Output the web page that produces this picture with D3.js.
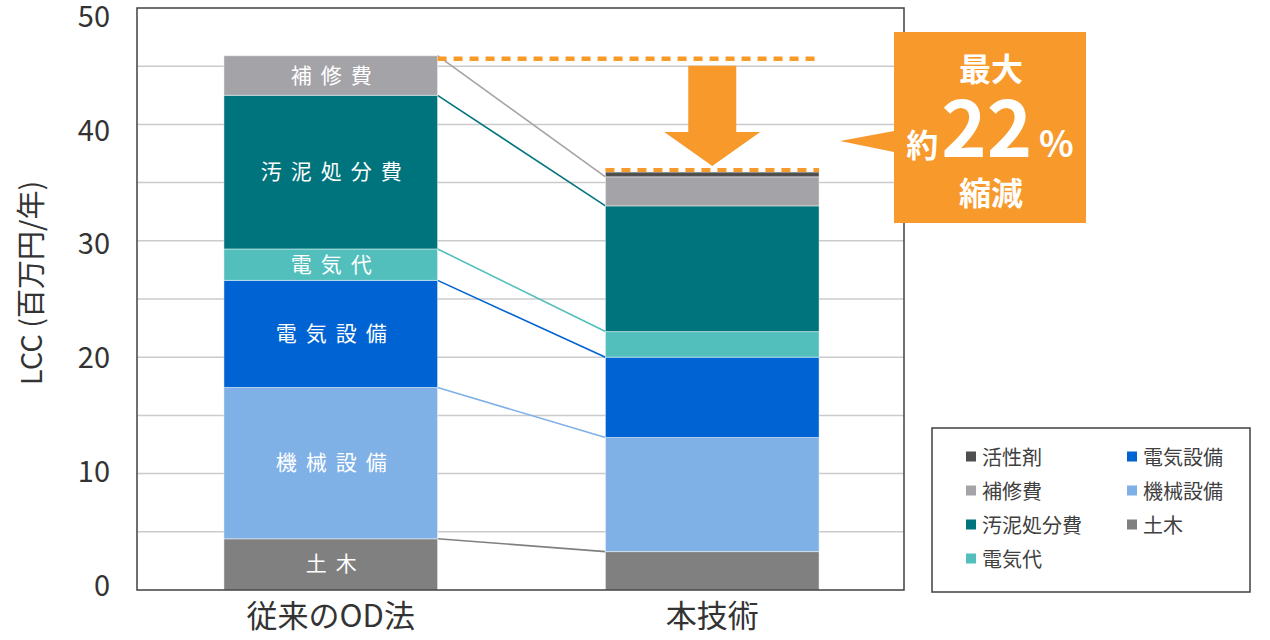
<!DOCTYPE html>
<html>
<head>
<meta charset="utf-8">
<script src="https://cdn.jsdelivr.net/npm/d3@7"></script>
<style>
  body { margin: 0; background: #fff; }
  text { font-family: "Noto Sans CJK JP", "Noto Sans", sans-serif; }
</style>
</head>
<body>
<svg id="svg"></svg>
<script>
// categories and series (bottom to top of the stack)
const categories = ['従来のOD法', '本技術'];
const seriesNames = ['土木', '機械設備', '電気設備', '電気代', '汚泥処分費', '補修費', '活性剤'];
const seriesColors = ['#808080', '#7fb0e6', '#0063d3', '#52bfbd', '#00747c', '#a4a3a8', '#4f4f4f'];

// values in 百万円/年, one per category
const doboku = [4.4, 3.3];
const kikaiSetsubi = [13.0, 9.8];
const denkiSetsubi = [9.2, 6.9];
const denkiDai = [2.7, 2.2];
const odeiShobun = [13.2, 10.8];
const hoshu = [3.4, 2.5];
const kasseizai = [0, 0.4];

const yTicks = [0, 10, 20, 30, 40, 50];
const gridValues = [5, 10, 15, 20, 25, 30, 35, 40, 45];
const legendOrder = ['活性剤', '補修費', '汚泥処分費', '電気代', '電気設備', '機械設備', '土木'];

const width = 1270;
const height = 640;
const plot = { left: 137, right: 904, top: 8, bottom: 590 };
const orange = '#f8992b';

const svg = d3.select('#svg')
  .attr('width', width)
  .attr('height', height);

// build table for the stack
const valuesBySeries = [doboku, kikaiSetsubi, denkiSetsubi, denkiDai, odeiShobun, hoshu, kasseizai];
const table = categories.map((c, i) => {
  const row = { category: c };
  seriesNames.forEach((s, j) => { row[s] = valuesBySeries[j][i]; });
  return row;
});
const stacked = d3.stack().keys(seriesNames)(table);
const totals = table.map(r => d3.sum(seriesNames, s => r[s]));

const x = d3.scaleBand()
  .domain(categories)
  .range([140, 903])
  .paddingInner(0.44)
  .paddingOuter(0.22);

const y = d3.scaleLinear()
  .domain([0, 50])
  .range([plot.bottom, plot.top]);

// the tick labels in the original sit on a slightly tighter scale than the grid
const yLabel = d3.scaleLinear()
  .domain([0, 50])
  .range([586, 17]);

// gridlines
svg.append('g')
  .selectAll('line')
  .data(gridValues)
  .join('line')
  .attr('x1', plot.left)
  .attr('x2', plot.right)
  .attr('y1', d => y(d))
  .attr('y2', d => y(d))
  .attr('stroke', '#cbcbcb')
  .attr('stroke-width', 1.5);

// y tick labels
const yAxis = d3.axisLeft(yLabel).tickValues(yTicks).tickSize(0).tickPadding(27);
const yg = svg.append('g')
  .attr('transform', `translate(${plot.left},0)`)
  .call(yAxis);
yg.select('.domain').remove();
yg.selectAll('text')
  .attr('font-size', '29px')
  .attr('fill', '#333')
  .style('font-family', '"Noto Sans CJK JP", sans-serif');

// y axis title
svg.append('text')
  .attr('transform', `translate(29, 283) rotate(-90)`)
  .attr('text-anchor', 'middle')
  .attr('dominant-baseline', 'central')
  .attr('font-size', '29px')
  .attr('fill', '#333')
  .text('LCC (百万円/年)');

// connector lines between the bar tops of each series
const x0Right = x(categories[0]) + x.bandwidth();
const x1Left = x(categories[1]);
svg.append('g')
  .selectAll('line')
  .data(stacked.filter(s => s.key !== '活性剤'))
  .join('line')
  .attr('x1', x0Right)
  .attr('x2', x1Left)
  .attr('y1', d => y(d[0][1]))
  .attr('y2', d => y(d[1][1]))
  .attr('stroke', d => seriesColors[seriesNames.indexOf(d.key)])
  .attr('stroke-width', 1.6);

// stacked bars
const layers = svg.append('g')
  .selectAll('g')
  .data(stacked)
  .join('g')
  .attr('fill', d => seriesColors[seriesNames.indexOf(d.key)]);

layers.selectAll('rect')
  .data(d => d.filter(p => p[1] - p[0] > 0))
  .join('rect')
  .attr('x', d => x(d.data.category))
  .attr('width', x.bandwidth())
  .attr('y', d => y(d[1]))
  .attr('height', d => y(d[0]) - y(d[1]))
  .attr('stroke', 'rgba(255,255,255,0.45)')
  .attr('stroke-width', 1);

// segment labels on the first bar
const labelSeries = ['土木', '機械設備', '電気設備', '電気代', '汚泥処分費', '補修費'];
svg.append('g')
  .selectAll('text')
  .data(stacked.filter(s => labelSeries.includes(s.key)))
  .join('text')
  .attr('x', x(categories[0]) + x.bandwidth() / 2 + 5)
  .attr('y', d => y((d[0][0] + d[0][1]) / 2) - 2)
  .attr('text-anchor', 'middle')
  .attr('dominant-baseline', 'central')
  .attr('font-size', '21px')
  .attr('letter-spacing', '9px')
  .attr('fill', '#fff')
  .text(d => d.key);

// plot frame
svg.append('rect')
  .attr('x', plot.left)
  .attr('y', plot.top)
  .attr('width', plot.right - plot.left)
  .attr('height', plot.bottom - plot.top)
  .attr('fill', 'none')
  .attr('stroke', '#404040')
  .attr('stroke-width', 1.5);

// x labels
svg.append('g')
  .selectAll('text')
  .data(categories)
  .join('text')
  .attr('x', d => x(d) + x.bandwidth() / 2)
  .attr('y', 627)
  .attr('text-anchor', 'middle')
  .attr('font-size', '31px')
  .attr('fill', '#333')
  .text(d => d);

// dashed orange lines at the two totals
const bar2Right = x(categories[1]) + x.bandwidth();
svg.append('line')
  .attr('x1', x0Right).attr('x2', bar2Right - 2)
  .attr('y1', y(totals[0]) + 3).attr('y2', y(totals[0]) + 3)
  .attr('stroke', orange).attr('stroke-width', 4.5)
  .attr('stroke-dasharray', '9 7');
svg.append('line')
  .attr('x1', x1Left).attr('x2', bar2Right)
  .attr('y1', y(totals[1]) - 2).attr('y2', y(totals[1]) - 2)
  .attr('stroke', orange).attr('stroke-width', 4)
  .attr('stroke-dasharray', '9 7');

// down arrow
const ac = x(categories[1]) + x.bandwidth() / 2;
const aTop = y(totals[0]) + 10;
const aTip = y(totals[1]) - 6;
const aBase = aTip - 34;
svg.append('path')
  .attr('d', `M${ac - 24},${aTop} L${ac + 24},${aTop} L${ac + 24},${aBase} L${ac + 48},${aBase}
              L${ac},${aTip} L${ac - 48},${aBase} L${ac - 24},${aBase} Z`)
  .attr('fill', orange);

// callout box
svg.append('path')
  .attr('d', 'M894,32 L1086,32 L1086,223 L894,223 L894,152 L840,141 L894,131 Z')
  .attr('fill', orange);

const callout = svg.append('g').attr('fill', '#fff').attr('font-weight', 700).attr('text-anchor', 'middle');
callout.append('text')
  .attr('x', 991).attr('y', 81)
  .attr('font-size', '32px')
  .text('最大');
const mid = callout.append('text')
  .attr('x', 990).attr('y', 157);
mid.append('tspan').attr('font-size', '32px').text('約');
mid.append('tspan').attr('font-size', '77px').attr('dx', 3).text('22');
mid.append('tspan').attr('font-size', '36px').attr('dx', 7).text('%');
callout.append('text')
  .attr('x', 991).attr('y', 205)
  .attr('font-size', '32px')
  .text('縮減');

// legend
const legend = svg.append('g');
legend.append('rect')
  .attr('x', 932).attr('y', 428)
  .attr('width', 318).attr('height', 164)
  .attr('fill', '#fff')
  .attr('stroke', '#404040')
  .attr('stroke-width', 1.5);

const items = legend.selectAll('g.item')
  .data(legendOrder)
  .join('g')
  .attr('class', 'item')
  .attr('transform', (d, i) => `translate(${i < 4 ? 966 : 1127}, ${456.5 + (i % 4) * 34})`);

items.append('rect')
  .attr('x', 0).attr('y', -5)
  .attr('width', 10).attr('height', 10)
  .attr('fill', d => seriesColors[seriesNames.indexOf(d)]);

items.append('text')
  .attr('x', 16).attr('y', 0)
  .attr('dominant-baseline', 'central')
  .attr('font-size', '20px')
  .attr('fill', '#404040')
  .text(d => d);
</script>
</body>
</html>
